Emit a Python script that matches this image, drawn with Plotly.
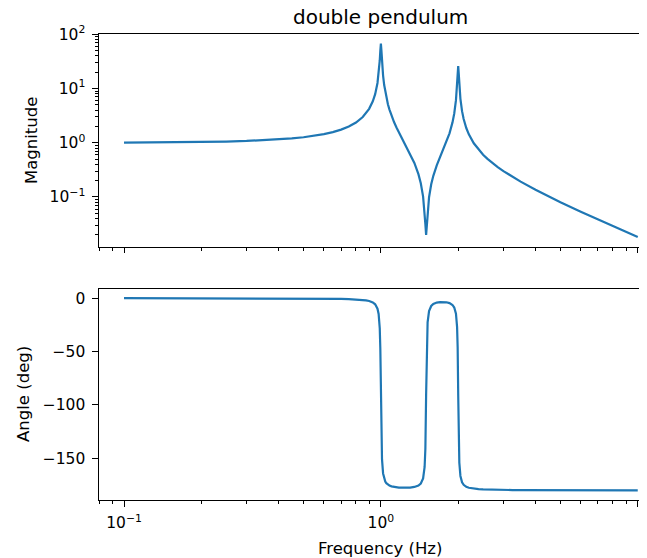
import plotly.graph_objects as go

# Frequency (Hz) samples
freq = [0.1, 0.15, 0.2, 0.25, 0.3, 0.35, 0.4, 0.45, 0.5, 0.55, 0.6, 0.65, 0.7, 0.75,
        0.8, 0.85, 0.875, 0.9, 0.93, 0.95, 0.97, 0.98, 0.99, 0.995,
        1.0, 1.005, 1.01, 1.02, 1.03, 1.04, 1.05, 1.065, 1.08, 1.1, 1.125, 1.15, 1.175,
        1.2, 1.25, 1.3, 1.35, 1.4,
        1.43, 1.46, 1.48, 1.49, 1.5, 1.51, 1.52, 1.54, 1.57, 1.6,
        1.65, 1.7, 1.75, 1.8, 1.85, 1.9, 1.93, 1.96, 1.98, 1.99,
        2.0, 2.01, 2.02, 2.04, 2.07, 2.1, 2.15, 2.2, 2.3, 2.4, 2.5, 2.6,
        2.7, 2.85, 3.0, 3.25, 3.5, 4.0, 4.5, 5.0, 6.0, 7.0, 8.0, 9.0, 10.0]

magnitude = [1.008, 1.0185, 1.034, 1.0535, 1.079, 1.1116, 1.152, 1.2019, 1.264, 1.3425,
             1.442, 1.5725, 1.748, 1.9948,
             2.366, 2.986, 3.481, 4.224, 5.814, 7.887, 12.67, 18.38, 32.96, 50.25,
             67.34, 49.42, 31.94, 17.33, 11.61, 8.638, 6.826, 5.137, 4.085, 3.156, 2.409, 1.910, 1.550,
             1.278, 0.8914, 0.6246, 0.4243, 0.2633,
             0.1785, 0.1016, 0.05311, 0.03161, 0.01999, 0.03148, 0.05247, 0.09886, 0.1711, 0.2453,
             0.3817, 0.5423, 0.7470, 1.034, 1.490, 2.375, 3.464, 6.102, 11.44, 18.22,
             25.93, 18.44, 11.74, 6.449, 3.825, 2.733, 1.870, 1.428, 0.9766, 0.7448, 0.6020, 0.5043,
             0.4330, 0.3556, 0.3000, 0.2355, 0.1916, 0.1358, 0.1023, 0.08025, 0.05357, 0.03848,
             0.02904, 0.02273, 0.01829]

angle_deg = [-0.05, -0.08, -0.10, -0.13, -0.17, -0.20, -0.24, -0.28, -0.34, -0.40,
             -0.48, -0.58, -0.72, -0.91,
             -1.21, -1.70, -2.11, -2.72, -4.04, -5.81, -9.90, -14.89, -28.33, -47.30,
             -89.63, -131.82, -150.69, -164.08, -169.05, -171.59, -173.13, -174.54, -175.42,
             -176.16, -176.73, -177.08, -177.30,
             -177.43, -177.48, -177.28, -176.71, -175.34,
             -173.46, -168.66, -158.00, -140.93, -90.22, -39.72, -22.73, -12.11, -7.32, -5.46,
             -4.16, -3.67, -3.63, -3.91, -4.67, -6.42, -8.79, -14.63, -27.13, -45.60,
             -90.65, -135.56, -153.94, -166.42, -172.29, -174.67, -176.53, -177.44, -178.33,
             -178.76, -179.02, -179.18,
             -179.29, -179.42, -179.49, -179.59, -179.64, -179.72, -179.76, -179.81, -179.85,
             -179.87, -179.89, -179.90, -179.92]

x_tickvals = [0.1, 1, 10]
x_ticktext = ["10<sup>\u22121</sup>", "10<sup>0</sup>", "10<sup>1</sup>"]
mag_tickvals = [0.1, 1, 10, 100]
mag_ticktext = ["10<sup>\u22121</sup>", "10<sup>0</sup>", "10<sup>1</sup>", "10<sup>2</sup>"]
ang_tickvals = [0, -50, -100, -150]
ang_ticktext = ["0", "\u221250", "\u2212100", "\u2212150"]

title_text = "double pendulum"
mag_label = "Magnitude"
ang_label = "Angle (deg)"
freq_label = "Frequency (Hz)"

x_minor = [0.08, 0.09, 0.2, 0.3, 0.4, 0.5, 0.6, 0.7, 0.8, 0.9, 2, 3, 4, 5, 6, 7, 8, 9]
mag_minor = [0.02, 0.03, 0.04, 0.05, 0.06, 0.07, 0.08, 0.09,
             0.2, 0.3, 0.4, 0.5, 0.6, 0.7, 0.8, 0.9,
             2, 3, 4, 5, 6, 7, 8, 9, 20, 30, 40, 50, 60, 70, 80, 90]

BLUE = "#1f77b4"
FONT = "DejaVu Sans"
TICKFS = 15.5
LABELFS = 16.5

# The page body adds an 8px offset; the figure is sized to fill the rest of the window.
OFF = 8
W, H = 647 - OFF, 558 - OFF
AX_LEFT, AX_TOP, AX_BOTTOM = 99.3 - OFF, 33.7 - OFF, 500.5 - OFF
L, R, T, B = AX_LEFT, 0, AX_TOP, H - AX_BOTTOM
plot_h = H - T - B

fig = go.Figure()
fig.add_trace(go.Scatter(x=freq, y=magnitude, mode="lines",
                         line=dict(color=BLUE, width=2.2), xaxis="x", yaxis="y",
                         showlegend=False))
fig.add_trace(go.Scatter(x=freq, y=angle_deg, mode="lines",
                         line=dict(color=BLUE, width=2.2), xaxis="x2", yaxis="y2",
                         showlegend=False))

common_x = dict(type="log", range=[-1.0974, 1.036], showline=True, linecolor="black",
                linewidth=1.2, mirror=True, ticks="outside", ticklen=5.5, tickwidth=1.2,
                tickcolor="black", showgrid=False, zeroline=False,
                tickmode="array", tickvals=x_tickvals, ticktext=x_ticktext,
                ticklabelstandoff=3,
                tickfont=dict(family=FONT, size=TICKFS, color="black"),
                minor=dict(tickmode="array", tickvals=x_minor, ticks="outside",
                           ticklen=3.2, tickwidth=1, tickcolor="black", showgrid=False))

top_bottom_px = 246.7 - OFF
bot_top_px = 288.7 - OFF
top_dom = [(H - B - top_bottom_px) / plot_h, 1.0]
bot_dom = [0.0, (H - B - bot_top_px) / plot_h]

fig.update_layout(
    width=W, height=H,
    margin=dict(l=L, r=R, t=T, b=B, pad=0),
    paper_bgcolor="white", plot_bgcolor="white",
    font=dict(family=FONT, size=TICKFS, color="black"),
    xaxis=dict(common_x, anchor="y", showticklabels=False, domain=[0, 1]),
    xaxis2=dict(common_x, anchor="y2", showticklabels=True, domain=[0, 1], matches="x"),
    yaxis=dict(type="log", range=[-1.916, 2.006], domain=top_dom, anchor="x",
               showline=True, linecolor="black", linewidth=1.2, mirror=False,
               ticks="outside", ticklen=5.5, tickwidth=1.2, tickcolor="black",
               showgrid=False, zeroline=False, ticklabelstandoff=4,
               tickmode="array", tickvals=mag_tickvals, ticktext=mag_ticktext,
               tickfont=dict(family=FONT, size=TICKFS, color="black"),
               minor=dict(tickmode="array", tickvals=mag_minor, ticks="outside",
                          ticklen=3.2, tickwidth=1, tickcolor="black", showgrid=False)),
    yaxis2=dict(range=[-188.92, 8.95], domain=bot_dom, anchor="x2",
                showline=True, linecolor="black", linewidth=1.2, mirror=False,
                ticks="outside", ticklen=5.5, tickwidth=1.2, tickcolor="black",
                showgrid=False, zeroline=False, ticklabelstandoff=4,
                tickmode="array", tickvals=ang_tickvals, ticktext=ang_ticktext,
                tickfont=dict(family=FONT, size=TICKFS, color="black")),
)

ax_w = W - L
fig.add_annotation(text=title_text, xref="paper", yref="paper", x=(380.5 - 99.3) / ax_w,
                   y=1.0, yshift=17.4, xanchor="center", yanchor="middle", showarrow=False,
                   font=dict(family=FONT, size=20, color="black"))
fig.add_annotation(text=mag_label, xref="paper", yref="paper", x=0, xshift=32 - 99.3,
                   y=(top_dom[0] + top_dom[1]) / 2, xanchor="center", yanchor="middle",
                   textangle=-90, showarrow=False,
                   font=dict(family=FONT, size=LABELFS, color="black"))
fig.add_annotation(text=ang_label, xref="paper", yref="paper", x=0, xshift=24 - 99.3,
                   y=(bot_dom[0] + bot_dom[1]) / 2, xanchor="center", yanchor="middle",
                   textangle=-90, showarrow=False,
                   font=dict(family=FONT, size=LABELFS, color="black"))
fig.add_annotation(text=freq_label, xref="paper", yref="paper", x=(380 - 99.3) / ax_w,
                   y=0, yshift=-48.4, xanchor="center", yanchor="middle", showarrow=False,
                   font=dict(family=FONT, size=LABELFS, color="black"))

fig.write_html("out.html")
